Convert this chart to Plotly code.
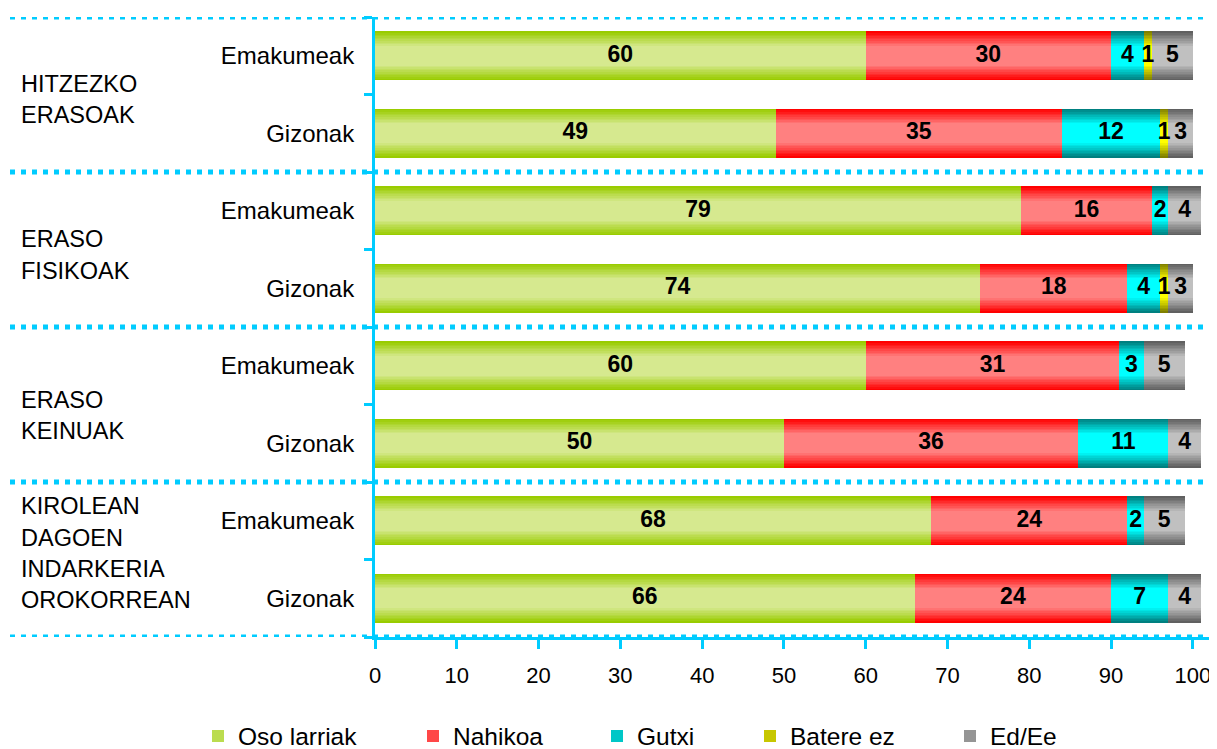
import plotly.graph_objects as go

# ---- data ----
groups = ["HITZEZKO<br>ERASOAK", "ERASO<br>FISIKOAK", "ERASO<br>KEINUAK",
          "KIROLEAN<br>DAGOEN<br>INDARKERIA<br>OROKORREAN"]
sub_labels = ["Emakumeak", "Gizonak"] * 4
series_names = ["Oso larriak", "Nahikoa", "Gutxi", "Batere ez", "Ed/Ee"]
oso_larriak = [60, 49, 79, 74, 60, 50, 68, 66]
nahikoa = [30, 35, 16, 18, 31, 36, 24, 24]
gutxi = [4, 12, 2, 4, 3, 11, 2, 7]
batere_ez = [1, 1, 0, 1, 0, 0, 0, 0]
ed_ee = [5, 3, 4, 3, 5, 4, 5, 4]
x_ticks = [0, 10, 20, 30, 40, 50, 60, 70, 80, 90, 100]

series = [oso_larriak, nahikoa, gutxi, batere_ez, ed_ee]
# (edge colour, centre colour) for the vertical gradient
grad = [((153, 204, 0), (214, 233, 143)),
        ((255, 0, 0), (255, 128, 128)),
        ((0, 128, 128), (0, 255, 255)),
        ((128, 128, 0), (255, 255, 0)),
        ((96, 96, 96), (192, 192, 192))]

AX = "#00CCFF"
FONT = "Liberation Sans, Arial, sans-serif"
ypos = list(range(len(sub_labels)))
BAR_W = 0.63
NL = 10

# page body has an 8px margin -> figure is drawn 8px right/down
W, H = 1209, 741
L, T, B, R = 367, 9, 112, 7
PW = W - L - R

fig = go.Figure()
bases = [0] * len(ypos)
label_x, label_y, label_t = [], [], []
for si, (name, vals) in enumerate(zip(series_names, series)):
    (e, c) = grad[si]
    for k in range(NL):
        t = k / (NL - 1)
        col = tuple(round(e[j] + (c[j] - e[j]) * t) for j in range(3))
        f = 1 - 0.6 * t
        fig.add_trace(go.Bar(
            x=vals, y=ypos, base=bases, orientation="h",
            width=BAR_W * f,
            marker=dict(color="rgb(%d,%d,%d)" % col, line=dict(width=0)),
            name=name, showlegend=(k == NL // 2),
            legend="legend" if si == 0 else "legend%d" % (si + 1),
            hoverinfo="skip"))
    for i, v in enumerate(vals):
        if v > 0:
            label_x.append(bases[i] + v / 2)
            label_y.append(ypos[i])
            label_t.append(str(v))
    bases = [b + v for b, v in zip(bases, vals)]

fig.add_trace(go.Scatter(
    x=label_x, y=label_y, text=label_t, mode="text",
    textfont=dict(family=FONT, size=23, color="black", weight="bold"),
    showlegend=False, hoverinfo="skip"))

# separators
shapes = []
for yb in [-0.5, 1.5, 3.5, 5.5, 7.5]:
    shapes.append(dict(type="line", xref="paper", yref="y",
                       x0=(10 - 375) / PW, x1=1.0, y0=yb, y1=yb,
                       line=dict(color=AX, width=5, dash="5px,6px"),
                       layer="below"))

# group labels, line by line
group_centres = [0.565, 2.57, 4.64, 6.42]
annotations = []
for g, yc in zip(groups, group_centres):
    lines = g.split("<br>")
    n = len(lines)
    for li, ln in enumerate(lines):
        annotations.append(dict(
            text=ln, xref="paper", yref="y", x=(19 - 375) / PW,
            y=yc + (li - (n - 1) / 2) * 0.405,
            xanchor="left", yanchor="middle", showarrow=False,
            font=dict(family=FONT, size=23.5, color="black")))

# legends (marker centres, screen px)
leg_px = [218, 433, 617, 770, 970]
legends = {}
for i, px in enumerate(leg_px):
    key = "legend" if i == 0 else "legend%d" % (i + 1)
    legends[key] = dict(x=(px - 20 - 375) / PW, xanchor="left",
                        y=(637 - 736) / 620, yanchor="middle",
                        orientation="h", bgcolor="rgba(0,0,0,0)",
                        font=dict(family=FONT, size=24.5, color="black"))

fig.update_layout(
    width=W, height=H,
    margin=dict(l=L, r=R, t=T, b=B, autoexpand=False),
    paper_bgcolor="white", plot_bgcolor="white",
    barmode="overlay", bargap=0,
    showlegend=True,
    shapes=shapes, annotations=annotations,
    font=dict(family=FONT, size=22, color="black"),
    xaxis=dict(range=[0, 102.1], tickvals=x_ticks,
               ticktext=[str(v) for v in x_ticks],
               showgrid=False, zeroline=False, automargin=False,
               showline=True, linecolor=AX, linewidth=3,
               ticks="outside", ticklen=9, tickwidth=3, tickcolor=AX,
               ticklabelstandoff=8,
               tickfont=dict(family=FONT, size=22, color="black")),
    yaxis=dict(range=[7.5, -0.5], tickvals=ypos, ticktext=sub_labels,
               showgrid=False, zeroline=False, automargin=False,
               showline=True, linecolor=AX, linewidth=3,
               ticks="", ticklabelstandoff=13,
               minor=dict(tickvals=[i + 0.5 for i in range(-1, 8)],
                          ticks="outside", ticklen=8, tickwidth=3,
                          tickcolor=AX, showgrid=False),
               tickfont=dict(family=FONT, size=24, color="black")),
    **legends,
)

fig.write_html("out.html")
